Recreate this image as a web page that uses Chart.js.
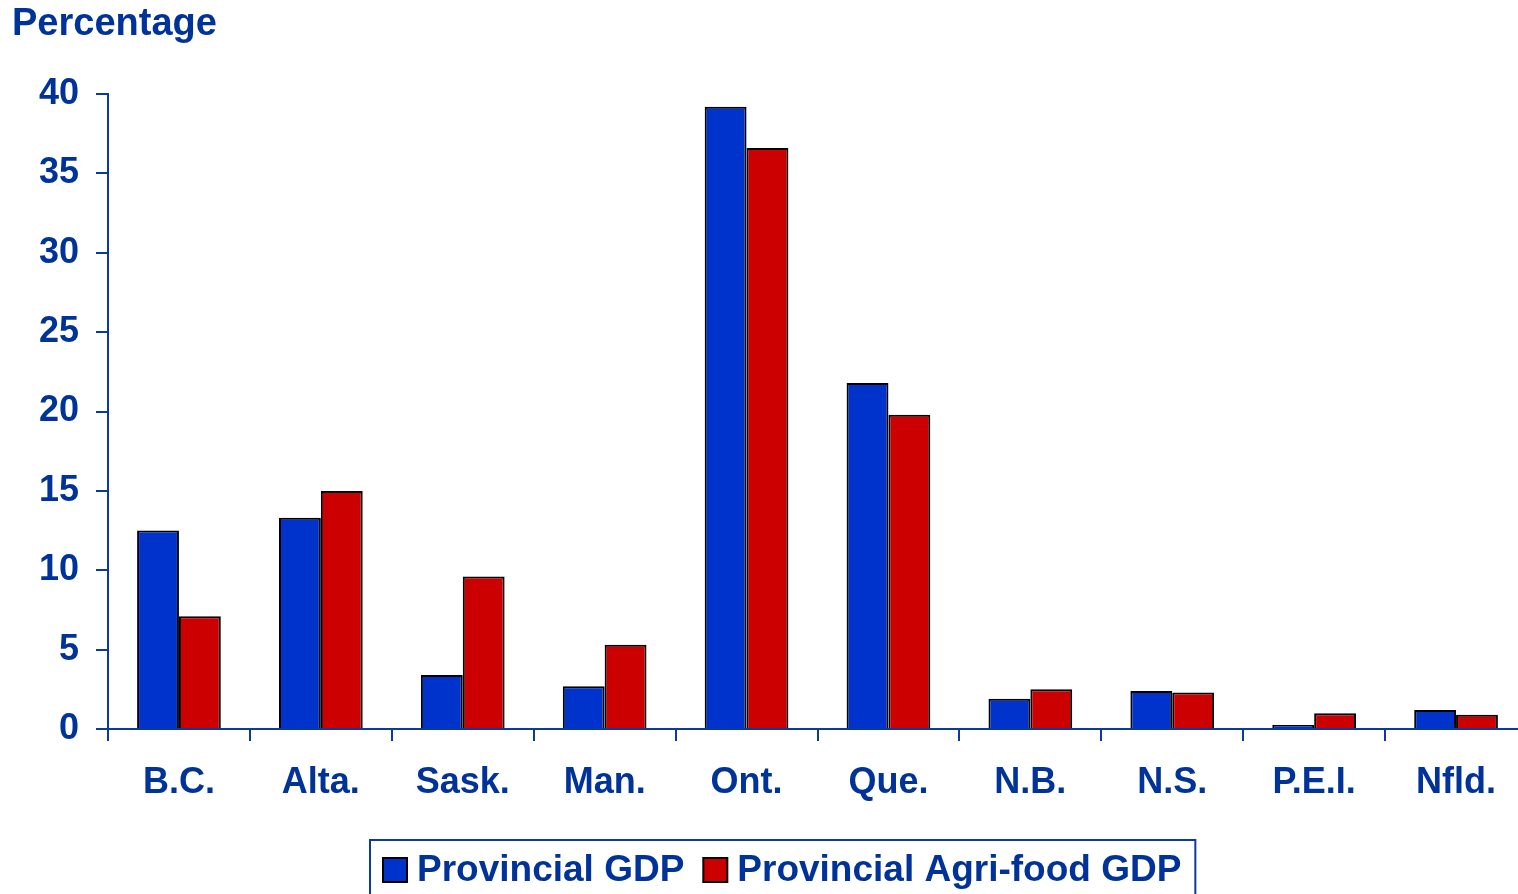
<!DOCTYPE html>
<html>
<head>
<meta charset="utf-8">
<script src="https://cdn.jsdelivr.net/npm/chart.js@4/dist/chart.umd.min.js"></script>
<style>
  html, body { margin: 0; padding: 0; background: #ffffff; overflow: hidden; }
  #wrap { width: 1528px; height: 894px; }
</style>
</head>
<body>
<div id="wrap"><canvas id="c" width="1528" height="894"></canvas></div>
<script>
const provinces = ["B.C.", "Alta.", "Sask.", "Man.", "Ont.", "Que.", "N.B.", "N.S.", "P.E.I.", "Nfld."];
const provincialGDP = [12.5, 13.3, 3.4, 2.7, 39.2, 21.8, 1.9, 2.4, 0.25, 1.2];
const agriFoodGDP = [7.1, 15.0, 9.6, 5.3, 36.6, 19.8, 2.5, 2.3, 1.0, 0.9];
const seriesNames = ["Provincial GDP", "Provincial Agri-food GDP"];
const yTitle = "Percentage";

const TEXT = "#003399";
const AXIS = "#0a3a9e";
const FONT = "'Liberation Sans', Arial, Helvetica, sans-serif";

const titlePlugin = {
  id: "titleText",
  afterDraw(chart) {
    const ctx = chart.ctx;
    ctx.save();
    ctx.fillStyle = TEXT;
    ctx.font = "bold 38px " + FONT;
    ctx.textAlign = "left";
    ctx.textBaseline = "alphabetic";
    ctx.fillText(yTitle, 12, 35);
    ctx.restore();
  }
};

const legendPlugin = {
  id: "boxLegend",
  afterDraw(chart) {
    const ctx = chart.ctx;
    ctx.save();
    ctx.font = "bold 37px " + FONT;
    ctx.textBaseline = "middle";
    ctx.textAlign = "left";
    const frameLeft = 370, frameTop = 840;
    let x = 383;
    const cy = 870;
    chart.data.datasets.forEach((ds, i) => {
      ctx.fillStyle = ds.backgroundColor;
      ctx.fillRect(x, cy - 12, 24, 24);
      ctx.lineWidth = 2;
      ctx.strokeStyle = "#000000";
      ctx.strokeRect(x, cy - 12, 24, 24);
      x += 24 + 10;
      ctx.fillStyle = TEXT;
      ctx.fillText(ds.label, x, cy + 1);
      x += ctx.measureText(ds.label).width + 19;
    });
    const frameRight = x - 19 + 14;
    ctx.strokeStyle = AXIS;
    ctx.lineWidth = 2;
    ctx.beginPath();
    ctx.moveTo(frameLeft, 900);
    ctx.lineTo(frameLeft, frameTop);
    ctx.lineTo(frameRight, frameTop);
    ctx.lineTo(frameRight, 900);
    ctx.stroke();
    ctx.restore();
  }
};

new Chart(document.getElementById("c"), {
  type: "bar",
  data: {
    labels: provinces,
    datasets: [
      { label: seriesNames[0], data: provincialGDP, backgroundColor: "#0033CC", borderColor: "#000000", borderWidth: 2 },
      { label: seriesNames[1], data: agriFoodGDP, backgroundColor: "#CC0000", borderColor: "#000000", borderWidth: 2 }
    ]
  },
  options: {
    responsive: false,
    devicePixelRatio: 1,
    animation: false,
    layout: { padding: { top: 94, right: 1, left: 0, bottom: 0 } },
    datasets: { bar: { categoryPercentage: 0.59, barPercentage: 1.0 } },
    plugins: { legend: { display: false }, tooltip: { enabled: false }, title: { display: false } },
    scales: {
      x: {
        offset: true,
        grid: { offset: true, drawOnChartArea: false, drawTicks: true, tickLength: 12, color: AXIS, lineWidth: 2 },
        border: { display: true, color: AXIS, width: 2 },
        ticks: { color: TEXT, font: { family: FONT, size: 36, weight: "bold" }, padding: 20, maxRotation: 0, autoSkip: false },
        afterFit(s) { s.height = 165; }
      },
      y: {
        min: 0, max: 40,
        grid: { drawOnChartArea: false, drawTicks: true, tickLength: 12, color: AXIS, lineWidth: 2 },
        border: { display: true, color: AXIS, width: 2 },
        ticks: { stepSize: 5, color: TEXT, font: { family: FONT, size: 36, weight: "bold" }, padding: 17 },
        afterFit(s) { s.width = 108; }
      }
    }
  },
  plugins: [titlePlugin, legendPlugin]
});
</script>
</body>
</html>
